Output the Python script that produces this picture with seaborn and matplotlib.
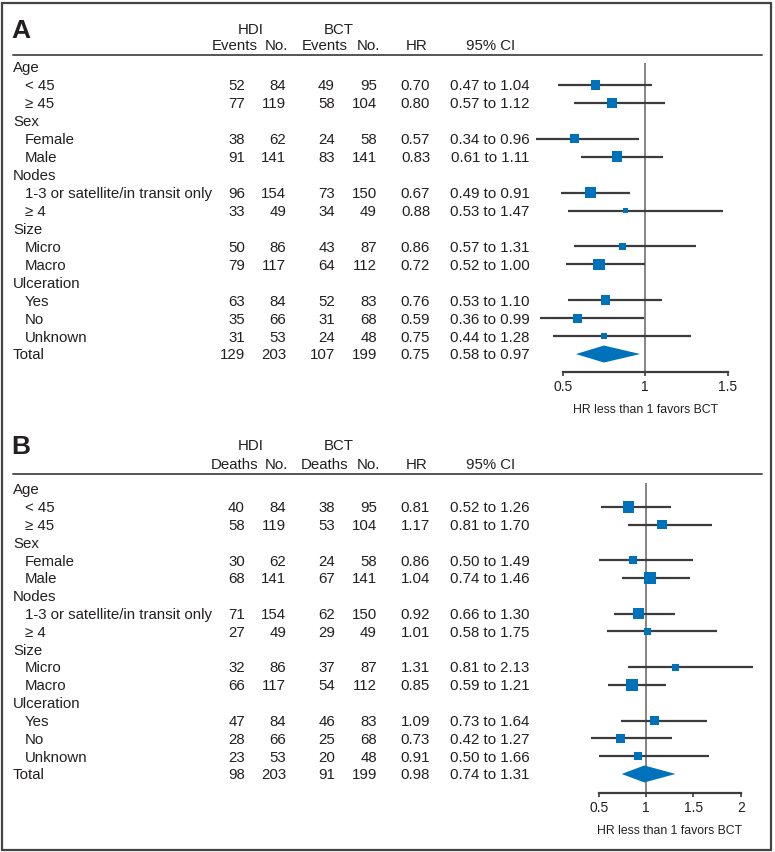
import numpy as np
import pandas as pd
import matplotlib
matplotlib.use("Agg")
import matplotlib.pyplot as plt
from matplotlib.lines import Line2D
from matplotlib.patches import Rectangle
from matplotlib.transforms import blended_transform_factory
import seaborn as sns

# ------------------- DATA -------------------

labels = ["Age", "< 45", "\u2265 45", "Sex", "Female", "Male", "Nodes",
          "1-3 or satellite/in transit only", "\u2265 4", "Size", "Micro",
          "Macro", "Ulceration", "Yes", "No", "Unknown", "Total"]
is_group = [True, False, False, True, False, False, True, False, False,
            True, False, False, True, False, False, False, True]
# rows that carry numbers (the last one is Total)
data_rows = [1, 2, 4, 5, 7, 8, 10, 11, 13, 14, 15, 16]

# panel A: events
hdi_events_a = [52, 77, 38, 91, 96, 33, 50, 79, 63, 35, 31, 129]
hdi_no_a = [84, 119, 62, 141, 154, 49, 86, 117, 84, 66, 53, 203]
bct_events_a = [49, 58, 24, 83, 73, 34, 43, 64, 52, 31, 24, 107]
bct_no_a = [95, 104, 58, 141, 150, 49, 87, 112, 83, 68, 48, 199]
hr_a = [0.70, 0.80, 0.57, 0.83, 0.67, 0.88, 0.86, 0.72, 0.76, 0.59, 0.75, 0.75]
lo_a = [0.47, 0.57, 0.34, 0.61, 0.49, 0.53, 0.57, 0.52, 0.53, 0.36, 0.44, 0.58]
hi_a = [1.04, 1.12, 0.96, 1.11, 0.91, 1.47, 1.31, 1.00, 1.10, 0.99, 1.28, 0.97]
weight_a = [6.9, 8.1, 5.9, 8.6, 11.4, 2.5, 3.6, 9.4, 6.9, 5.9, 2.8]

# panel B: deaths
hdi_deaths_b = [40, 58, 30, 68, 71, 27, 32, 66, 47, 28, 23, 98]
hdi_no_b = [84, 119, 62, 141, 154, 49, 86, 117, 84, 66, 53, 203]
bct_deaths_b = [38, 53, 24, 67, 62, 29, 37, 54, 46, 25, 20, 91]
bct_no_b = [95, 104, 58, 141, 150, 49, 87, 112, 83, 68, 48, 199]
hr_b = [0.81, 1.17, 0.86, 1.04, 0.92, 1.01, 1.31, 0.85, 1.09, 0.73, 0.91, 0.98]
lo_b = [0.52, 0.81, 0.50, 0.74, 0.66, 0.58, 0.81, 0.59, 0.73, 0.42, 0.50, 0.74]
hi_b = [1.26, 1.70, 1.49, 1.46, 1.30, 1.75, 2.13, 1.21, 1.64, 1.27, 1.66, 1.31]
weight_b = [10.0, 7.2, 5.3, 10.0, 12.8, 3.6, 3.6, 12.8, 6.4, 5.9, 4.5]

xticks_a = [0.5, 1, 1.5]
xticks_b = [0.5, 1, 1.5, 2]
xlabel = "HR less than 1 favors BCT"

# ------------------- STYLE -------------------

W, H = 775, 852
INK = "#231f20"
BLUE = "#0072bc"
LINE = "#3c3c3c"
FS = 10.8

sns.set_theme(style="white")
plt.rcParams["font.family"] = ["Liberation Sans", "DejaVu Sans"]


def fx(x):
    return x / W


def fy(y):
    return 1 - y / H


def draw_panel(fig, letter, word, hdi_ev, hdi_no, bct_ev, bct_no, hr, lo, hi,
               weight, xticks, head_px, row0_px, step, top_px, axis_px,
               x0_px, x1_px):
    ax = fig.add_axes([fx(x0_px), fy(axis_px), (x1_px - x0_px) / W,
                       (axis_px - top_px) / H])
    ax.patch.set_alpha(0)
    tr = blended_transform_factory(fig.transFigure, ax.transData)
    base = 5.4 / step  # baseline sits below the row centre

    # header block
    title_px, sub_px, rule_px = head_px
    fig.text(fx(11), fy(title_px + 9.5), letter, fontsize=19,
             fontweight="bold", color=INK, ha="left", va="baseline")
    ty, sy = fy(title_px + 5.4), fy(sub_px + 5.4)
    fig.text(fx(251), ty, "HDI", fontsize=FS, color=INK, ha="center", va="baseline")
    fig.text(fx(339), ty, "BCT", fontsize=FS, color=INK, ha="center", va="baseline")
    fig.text(fx(258), sy, word, fontsize=FS, color=INK, ha="right", va="baseline")
    fig.text(fx(288), sy, "No.", fontsize=FS, color=INK, ha="right", va="baseline")
    fig.text(fx(348), sy, word, fontsize=FS, color=INK, ha="right", va="baseline")
    fig.text(fx(380), sy, "No.", fontsize=FS, color=INK, ha="right", va="baseline")
    fig.text(fx(417), sy, "HR", fontsize=FS, color=INK, ha="center", va="baseline")
    fig.text(fx(491), sy, "95% CI", fontsize=FS, color=INK, ha="center", va="baseline")
    fig.add_artist(Line2D([fx(13), fx(762)], [fy(rule_px), fy(rule_px)],
                          transform=fig.transFigure, color="#555555", lw=1.4))

    # table columns
    for i, lab in enumerate(labels):
        x = 13 if is_group[i] else 25
        ax.text(fx(x), i + base, lab, transform=tr, fontsize=FS, color=INK,
                ha="left", va="baseline")
    for k, r in enumerate(data_rows):
        cols = [(245, str(hdi_ev[k]), "right"), (286, str(hdi_no[k]), "right"),
                (335, str(bct_ev[k]), "right"), (377, str(bct_no[k]), "right"),
                (430, f"{hr[k]:.2f}", "right"),
                (490, f"{lo[k]:.2f} to {hi[k]:.2f}", "center")]
        for x, s, ha in cols:
            ax.text(fx(x), r + base, s, transform=tr, fontsize=FS, color=INK,
                    ha=ha, va="baseline")

    # forest
    ax.axvline(1, color="#707070", lw=1.2, zorder=1)
    ax.hlines(data_rows[:-1], lo[:-1], hi[:-1], color=LINE, lw=1.6,
              zorder=2, clip_on=False)
    df = pd.DataFrame({"hr": hr[:-1], "row": data_rows[:-1], "weight": weight})
    sns.scatterplot(data=df, x="hr", y="row", size="weight", sizes=(0, 68),
                    size_norm=(0, 10), marker="s", color=BLUE, linewidth=0,
                    legend=False, ax=ax, zorder=3, clip_on=False)
    dh = 8.5 / step
    tot = data_rows[-1]
    ax.fill([lo[-1], hr[-1], hi[-1], hr[-1]], [tot, tot - dh, tot, tot + dh],
            color=BLUE, lw=0, zorder=3, clip_on=False)

    ax.set_xlim(xticks[0], xticks[-1])
    ax.set_ylim((axis_px - row0_px) / step, (top_px - row0_px) / step)
    ax.set_xticks(xticks)
    ax.set_xticklabels([f"{t:g}" for t in xticks])
    ax.set_yticks([])
    ax.set_ylabel("")
    ax.set_xlabel(xlabel, fontsize=8.8, color=INK, labelpad=7.5)
    sns.despine(ax=ax, left=True)
    ax.spines["bottom"].set_color(LINE)
    ax.spines["bottom"].set_linewidth(1.6)
    ax.tick_params(axis="x", bottom=True, direction="out", length=3,
                   width=1.2, color=LINE, pad=2.5, labelsize=10, labelcolor=INK)
    return ax


fig = plt.figure(figsize=(W / 100, H / 100), dpi=100)

draw_panel(fig, "A", "Events", hdi_events_a, hdi_no_a, bct_events_a, bct_no_a,
           hr_a, lo_a, hi_a, weight_a, xticks_a,
           head_px=(28.5, 45, 55), row0_px=67, step=17.94, top_px=63,
           axis_px=372, x0_px=562.7, x1_px=727.7)

draw_panel(fig, "B", "Deaths", hdi_deaths_b, hdi_no_b, bct_deaths_b, bct_no_b,
           hr_b, lo_b, hi_b, weight_b, xticks_b,
           head_px=(445, 463.5, 474), row0_px=489, step=17.81, top_px=483,
           axis_px=793, x0_px=599, x1_px=740.7)

# outer frame
fig.add_artist(Rectangle((fx(2), fy(850)), fx(771) - fx(2), fy(3) - fy(850),
                         transform=fig.transFigure, fill=False,
                         edgecolor="#444444", lw=1.6))

plt.savefig("out.png", dpi=100)
plt.close()
